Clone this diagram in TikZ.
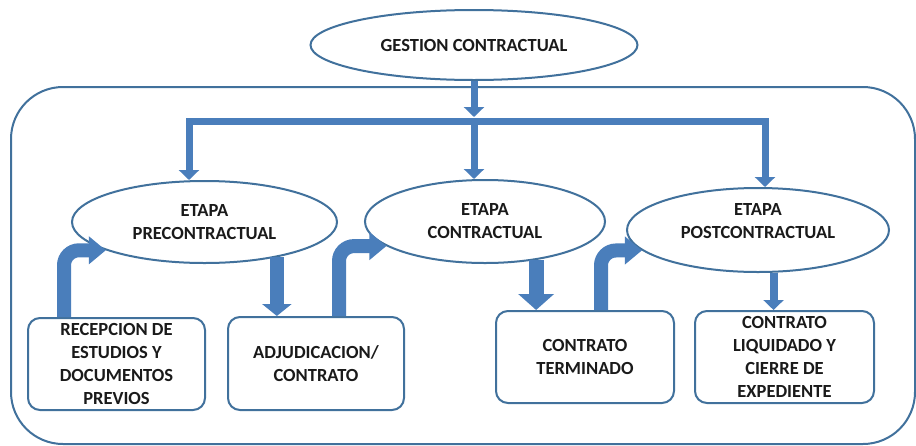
\documentclass[tikz,border=0pt]{standalone}
\usepackage{fontspec}
\setmainfont{Carlito}
\usetikzlibrary{shapes.geometric,arrows.meta}
\definecolor{edge}{HTML}{41719C}
\definecolor{arr}{HTML}{4A7EBB}
\definecolor{txt}{HTML}{1A1A1A}
\begin{document}
\begin{tikzpicture}[x=1pt,y=-1pt,
  lbl/.style={font=\fontsize{18.5}{23}\selectfont\bfseries, text=txt, align=center},
  oval/.style={ellipse, draw=edge, line width=2pt, fill=white, inner sep=0pt, lbl},
  card/.style={rectangle, rounded corners=12pt, draw=edge, line width=2pt, fill=white, inner sep=0pt, lbl},
  frame/.style={draw=edge, line width=2pt, rounded corners=52pt},
  bent/.style={draw=arr, line width=14pt, rounded corners=15pt, -{Triangle[length=17pt,width=27pt]}},
  drop/.style={draw=arr, line width=14pt, -{Triangle[length=12pt,width=29pt]}},
  dropbig/.style={draw=arr, line width=15pt, -{Triangle[length=16pt,width=35pt]}},
  slim/.style={draw=arr, line width=7pt, -{Triangle[length=10pt,width=20pt]}},
  slimbar/.style={draw=arr, line width=7pt, {Triangle[length=10pt,width=20pt]}-{Triangle[length=10pt,width=20pt]}},
  slimpost/.style={draw=arr, line width=8pt, -{Triangle[length=10pt,width=20pt]}}
]
\useasboundingbox (0,0) rectangle (916,445);
\fill[white] (0,0) rectangle (916,445);
\draw[frame] (11,87) rectangle (915,444);

% ellipses
\node[oval, minimum width=327pt, minimum height=70pt] (gest) at (474,45) {GESTION CONTRACTUAL};
\node[oval, minimum width=265pt, minimum height=82pt] (pre) at (204.5,222) {ETAPA\\PRECONTRACTUAL};
\node[oval, minimum width=240pt, minimum height=83pt] (con) at (485,221.5) {ETAPA\\CONTRACTUAL};
\node[oval, minimum width=262pt, minimum height=84pt] (post) at (758,230) {};
\node[lbl, inner sep=0pt] (postt) at (758,221) {ETAPA\\POSTCONTRACTUAL};

% boxes
\node[card, minimum width=177pt, minimum height=92pt] (rec) at (116.5,364) {RECEPCION DE\\ESTUDIOS Y\\DOCUMENTOS\\PREVIOS};
\node[card, minimum width=176pt, minimum height=93pt] (adj) at (316,363.5) {ADJUDICACION/\\CONTRATO};
\node[card, minimum width=178pt, minimum height=92pt] (term) at (585,357) {CONTRATO\\TERMINADO};
\node[card, minimum width=179pt, minimum height=92pt] (liq) at (784.5,357) {CONTRATO\\LIQUIDADO Y\\CIERRE DE\\EXPEDIENTE};

% top distribution
\coordinate (hub) at (474,121);
\coordinate (hubtop) at (474,117);
\coordinate (hl) at (189,121);
\coordinate (hr) at (765,121);
\draw[slim] (gest.south) -- (hubtop);
\draw[slimbar] (hl |- pre.north) -- (hl) -- (hr) -- (hr |- post.north);
\draw[slim] (hub) -- (hub |- con.north);

% bent arrows up
\draw[bent] ([xshift=37pt]rec.north west) |- (pre.196);
\draw[bent] ([xshift=112pt]adj.north west) |- (con.194);
\draw[bent] ([xshift=106pt]term.north west) |- (post.190);

% down arrows
\draw[drop] (pre.-26) -- (pre.-26 |- adj.north);
\draw[dropbig] (con.-37) -- (con.-37 |- term.north);
\draw[slimpost] (post.-70) -- (post.-70 |- liq.north);
\end{tikzpicture}
\end{document}
